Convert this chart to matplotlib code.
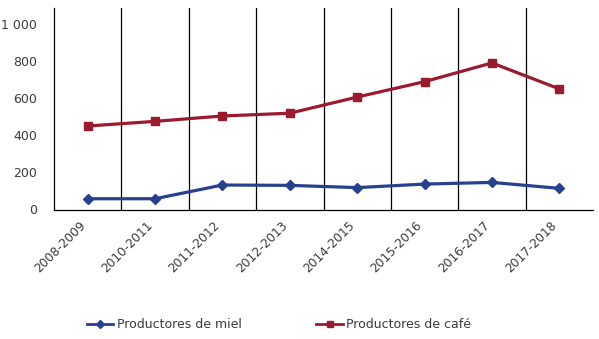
import matplotlib
matplotlib.use("Agg")
import matplotlib.pyplot as plt
import matplotlib.transforms as mtransforms
from matplotlib.lines import Line2D

categories = ["2008-2009", "2010-2011", "2011-2012", "2012-2013", "2014-2015",
              "2015-2016", "2016-2017", "2017-2018"]
miel = [58, 58, 132, 130, 118, 137, 146, 114]
cafe = [450, 475, 504, 519, 606, 689, 790, 650]
yticks = [0, 200, 400, 600, 800, 1000]
ytick_labels = ["0", "200", "400", "600", "800", "1 000"]

blue = "#27418f"
red = "#9a1b2d"
txt = "#3a3a3a"

fig = plt.figure(figsize=(5.99, 3.39), dpi=100)
ax = fig.add_axes([54/599, 1 - 209.5/339, (593-54)/599, (209.5-8)/339])

x = list(range(len(categories)))
ax.plot(x, miel, color=blue, lw=2.3, marker="D", ms=5.5, label="Productores de miel")
ax.plot(x, cafe, color=red, lw=2.3, marker="s", ms=5.5, label="Productores de café")

ax.set_xlim(-0.5, len(categories) - 0.5)
ax.set_ylim(0, 1086)
for b in range(1, len(categories)):
    ax.axvline(b - 0.5, color="black", lw=0.9, zorder=0)

ax.set_xticks(x)
ax.set_xticklabels([])
offset = mtransforms.ScaledTranslation(-9/100, -9/100, fig.dpi_scale_trans)
for xi, lab in zip(x, categories):
    ax.text(xi, 0, lab, transform=ax.get_xaxis_transform() + offset,
            rotation=45, ha="right", va="top", rotation_mode="anchor",
            fontsize=8.8, color=txt)
ax.set_yticks(yticks)
ax.set_yticklabels(ytick_labels, fontsize=9, color=txt)
ax.tick_params(length=0)
ax.tick_params(axis="y", pad=12)
for s in ["top", "right"]:
    ax.spines[s].set_visible(False)
ax.spines["left"].set_linewidth(0.9)
ax.spines["bottom"].set_linewidth(0.9)

h1 = Line2D([], [], color=blue, lw=2, marker="D", ms=4.5)
h2 = Line2D([], [], color=red, lw=2, marker="s", ms=4.5)
fig.legend([h1, h2], ["Productores de miel", "Productores de café"],
           loc="center", bbox_to_anchor=(279/599, 1 - 325/339), ncol=2, frameon=False,
           fontsize=9, handlelength=2.1, columnspacing=6, handletextpad=0.3,
           labelcolor=txt)

fig.savefig("out.png", dpi=100)
